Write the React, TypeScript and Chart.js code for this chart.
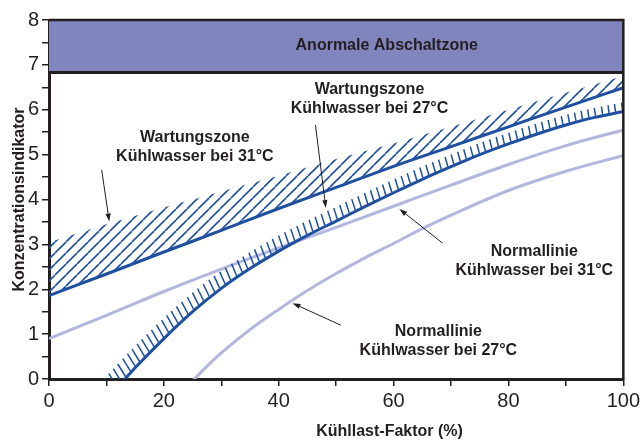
import React, { useEffect, useRef } from "react";
import { Chart, registerables } from "chart.js";

Chart.register(...registerables);

// ---------- data ----------
const loadLevels = [0, 10, 20, 30, 40, 50, 60, 70, 80, 90, 100];
const zone31Line = [1.86, 2.34, 2.83, 3.31, 3.8, 4.27, 4.74, 5.18, 5.62, 6.06, 6.49];
const zone31HatchTop = [3.05, 3.45, 3.82, 4.18, 4.53, 4.9, 5.25, 5.62, 6.0, 6.38, 6.75];
const normal31Line = [0.9, 1.42, 1.95, 2.45, 2.92, 3.38, 3.85, 4.32, 4.78, 5.2, 5.55];

const zone27Load = [11, 13.2, 15, 20, 25, 30, 35, 40, 45, 50, 55, 60, 65, 70, 75, 80, 85, 90, 95, 100];
const zone27Line = [-0.3, 0, 0.25, 0.9, 1.5, 2.02, 2.46, 2.85, 3.2, 3.52, 3.84, 4.15, 4.45, 4.73, 5.0, 5.24, 5.46, 5.66, 5.83, 5.96];

const normal27Load = [24, 25.3, 27, 30, 35, 40, 45, 50, 55, 60, 65, 70, 80, 90, 100];
const normal27Line = [-0.17, 0, 0.22, 0.58, 1.1, 1.55, 1.97, 2.35, 2.7, 3.02, 3.35, 3.65, 4.2, 4.63, 4.98];

const shutdownLoad = [0, 100];
const shutdownLevel = [6.83, 6.83];

const xTickLabels = [0, 20, 40, 60, 80, 100];
const yTickLabels = [0, 1, 2, 3, 4, 5, 6, 7, 8];

const yAxisTitle = "Konzentrationsindikator";
const xAxisTitle = "Kühllast-Faktor (%)";

// annotation texts (anchor in data coordinates: centre x, first line y)
const zoneLabels = [
  { lines: ["Anormale Abschaltzone"], x: 58.8, y: 7.42 },
  { lines: ["Wartungszone", "Kühlwasser bei 31°C"], x: 25.4, y: 5.37 },
  { lines: ["Wartungszone", "Kühlwasser bei 27°C"], x: 55.8, y: 6.44 },
  { lines: ["Normallinie", "Kühlwasser bei 31°C"], x: 84.5, y: 2.83 },
  { lines: ["Normallinie", "Kühlwasser bei 27°C"], x: 67.8, y: 1.05 },
];

// pointer arrows in data coordinates
const pointers = [
  { from: [9.17, 4.66], to: [10.49, 3.51] },
  { from: [46.4, 5.66], to: [48.2, 3.81] },
  { from: [68.5, 3.03], to: [61.0, 3.79] },
  { from: [50.8, 1.2], to: [42.4, 1.69] },
];
const xTitleCenter = 59.3;

// ---------- styles ----------
const TEXT = "#231f20";
const DARK_BLUE = "#1f4f9f";
const LIGHT_LINE = "#b3b6de";
const BAND = "#8085be";
const FONT = "'Liberation Sans', Arial, Helvetica, sans-serif";
const LABEL_SIZE = 16;
const LINE_GAP = 18.5;
const ZONE27_INDEX = 3;

const zip = (xs: number[], ys: number[]) => xs.map((x, i) => ({ x, y: ys[i] }));

function makeHatch(color: string) {
  const c = document.createElement("canvas");
  const w = 11, h = 11;
  c.width = w;
  c.height = h;
  const g = c.getContext("2d")!;
  g.strokeStyle = color;
  g.lineWidth = 1.6;
  for (const dx of [-w, 0, w]) {
    g.beginPath();
    g.moveTo(dx, h);
    g.lineTo(dx + w, 0);
    g.stroke();
  }
  return g.createPattern(c, "repeat")!;
}

const tickHatchPlugin = {
  id: "tickHatch",
  afterDatasetsDraw(chart: any) {
    const meta = chart.getDatasetMeta(ZONE27_INDEX);
    const line = meta.dataset;
    const pts = meta.data;
    if (!pts || pts.length < 2) return;
    const { ctx, chartArea: a, scales } = chart;
    const sx = scales.x;
    const linearAt = (px: number) => {
      for (let i = 1; i < pts.length; i++) {
        if (px <= pts[i].x) {
          const t = (px - pts[i - 1].x) / (pts[i].x - pts[i - 1].x);
          return pts[i - 1].y + t * (pts[i].y - pts[i - 1].y);
        }
      }
      return pts[pts.length - 1].y;
    };
    const samples: { x: number; y: number }[] = [];
    const x0 = pts[0].x, x1 = pts[pts.length - 1].x;
    for (let px = x0; px <= x1; px += 0.5) {
      let p: any = typeof line.interpolate === "function" ? line.interpolate({ x: px }, "x") : null;
      if (Array.isArray(p)) p = p[0];
      const y = p && isFinite(p.y) ? p.y : linearAt(px);
      samples.push({ x: px, y });
    }
    ctx.save();
    ctx.beginPath();
    ctx.rect(a.left, a.top, a.right - a.left, a.bottom - a.top);
    ctx.clip();
    ctx.strokeStyle = DARK_BLUE;
    ctx.lineWidth = 1.5;
    const spacing = 6.8;
    let dist = 0, next = 0;
    for (let i = 1; i < samples.length - 1; i++) {
      dist += Math.hypot(samples[i].x - samples[i - 1].x, samples[i].y - samples[i - 1].y);
      if (dist < next) continue;
      next += spacing;
      const tx = samples[i + 1].x - samples[i - 1].x;
      const ty = samples[i + 1].y - samples[i - 1].y;
      const len = Math.hypot(tx, ty) || 1;
      let nx = ty / len, ny = -tx / len - 0.5;
      const nl = Math.hypot(nx, ny) || 1;
      nx /= nl;
      ny /= nl;
      const v = sx.getValueForPixel(samples[i].x);
      const t = Math.min(1, Math.max(0, (v - 13) / 87));
      const L = 16 - 7 * t;
      ctx.beginPath();
      ctx.moveTo(samples[i].x + nx * 1.2, samples[i].y + ny * 1.2);
      ctx.lineTo(samples[i].x + nx * L, samples[i].y + ny * L);
      ctx.stroke();
    }
    ctx.restore();
  },
};

const annotationPlugin = {
  id: "annotations",
  afterDraw(chart: any) {
    const { ctx, chartArea: a, scales } = chart;
    const sx = scales.x, sy = scales.y;
    ctx.save();
    // frame top/right
    ctx.strokeStyle = TEXT;
    ctx.lineWidth = 2.5;
    ctx.beginPath();
    ctx.moveTo(a.left, a.top);
    ctx.lineTo(a.right, a.top);
    ctx.lineTo(a.right, a.bottom);
    ctx.stroke();

    // labels
    ctx.fillStyle = TEXT;
    ctx.font = `bold ${LABEL_SIZE}px ${FONT}`;
    ctx.textAlign = "center";
    ctx.textBaseline = "middle";
    for (const lab of zoneLabels) {
      const cx = sx.getPixelForValue(lab.x);
      const cy = sy.getPixelForValue(lab.y);
      lab.lines.forEach((t, i) => ctx.fillText(t, cx, cy + i * LINE_GAP));
    }
    // x axis title
    ctx.fillText(xAxisTitle, sx.getPixelForValue(xTitleCenter), sx.bottom - 9);

    // arrows
    ctx.strokeStyle = TEXT;
    ctx.lineWidth = 1;
    for (const p of pointers) {
      const fx = sx.getPixelForValue(p.from[0]), fy = sy.getPixelForValue(p.from[1]);
      const tx = sx.getPixelForValue(p.to[0]), ty = sy.getPixelForValue(p.to[1]);
      const ang = Math.atan2(ty - fy, tx - fx);
      const head = 8, half = 2.6;
      const bx = tx - head * Math.cos(ang), by = ty - head * Math.sin(ang);
      ctx.beginPath();
      ctx.moveTo(fx, fy);
      ctx.lineTo(bx, by);
      ctx.stroke();
      ctx.beginPath();
      ctx.moveTo(tx, ty);
      ctx.lineTo(bx + half * Math.sin(ang), by - half * Math.cos(ang));
      ctx.lineTo(bx - half * Math.sin(ang), by + half * Math.cos(ang));
      ctx.closePath();
      ctx.fill();
    }
    ctx.restore();
  },
};

export default function App() {
  const ref = useRef<HTMLCanvasElement>(null);
  useEffect(() => {
    document.body.style.margin = "0";
    const canvas = ref.current!;
    const hatch = makeHatch(DARK_BLUE);
    const chart = new Chart(canvas, {
      type: "line",
      data: {
        datasets: [
          {
            label: "Anormale Abschaltzone",
            data: zip(shutdownLoad, shutdownLevel),
            borderColor: TEXT,
            borderWidth: 3,
            backgroundColor: BAND,
            fill: "end",
            pointRadius: 0,
            order: 5,
          },
          {
            label: "Wartungszone 31°C (Schraffur)",
            data: zip(loadLevels, zone31HatchTop),
            borderWidth: 0,
            borderColor: "rgba(0,0,0,0)",
            backgroundColor: hatch,
            fill: 2,
            pointRadius: 0,
            order: 3,
          },
          {
            label: "Wartungszone Kühlwasser bei 31°C",
            data: zip(loadLevels, zone31Line),
            borderColor: DARK_BLUE,
            borderWidth: 3,
            fill: false,
            pointRadius: 0,
            cubicInterpolationMode: "monotone",
            order: 1,
          },
          {
            label: "Wartungszone Kühlwasser bei 27°C",
            data: zip(zone27Load, zone27Line),
            borderColor: DARK_BLUE,
            borderWidth: 3,
            fill: false,
            pointRadius: 0,
            cubicInterpolationMode: "monotone",
            clip: 0,
            order: 1,
          },
          {
            label: "Normallinie Kühlwasser bei 31°C",
            data: zip(loadLevels, normal31Line),
            borderColor: LIGHT_LINE,
            borderWidth: 3,
            fill: false,
            pointRadius: 0,
            cubicInterpolationMode: "monotone",
            order: 4,
          },
          {
            label: "Normallinie Kühlwasser bei 27°C",
            data: zip(normal27Load, normal27Line),
            borderColor: LIGHT_LINE,
            borderWidth: 3,
            fill: false,
            pointRadius: 0,
            cubicInterpolationMode: "monotone",
            clip: 0,
            order: 4,
          },
        ] as any,
      },
      options: {
        animation: false,
        responsive: false,
        devicePixelRatio: 1,
        layout: { padding: { left: 0, top: 20, right: 19, bottom: 0 } },
        plugins: { legend: { display: false }, tooltip: { enabled: false } },
        scales: {
          x: {
            type: "linear",
            min: 0,
            max: 100,
            z: 1,
            afterFit: (s: any) => { s.height = 62; },
            border: { display: true, color: TEXT, width: 3 },
            grid: { display: true, drawOnChartArea: false, drawTicks: true, tickLength: 7, color: TEXT, lineWidth: 1.5 },
            ticks: {
              stepSize: 10,
              autoSkip: false,
              maxRotation: 0,
              padding: 3,
              color: TEXT,
              font: { family: FONT, size: 20 },
              callback: (v: any) => (xTickLabels.includes(Number(v)) ? String(v) : ""),
            },
          },
          y: {
            type: "linear",
            min: 0,
            max: 8,
            z: 1,
            afterFit: (s: any) => { s.width = 49; },
            border: { display: true, color: TEXT, width: 3 },
            grid: { display: true, drawOnChartArea: false, drawTicks: true, tickLength: 7, color: TEXT, lineWidth: 1.5 },
            title: {
              display: true,
              text: yAxisTitle,
              color: TEXT,
              font: { family: FONT, size: LABEL_SIZE, weight: "bold" },
              padding: { top: 10, bottom: 0 },
            },
            ticks: {
              stepSize: 0.5,
              autoSkip: false,
              padding: 3,
              color: TEXT,
              font: { family: FONT, size: 20 },
              callback: (v: any) => (yTickLabels.includes(Number(v)) ? String(v) : ""),
            },
          },
        },
      } as any,
      plugins: [tickHatchPlugin, annotationPlugin],
    });
    return () => chart.destroy();
  }, []);
  return (
    <div style={{ width: 643, height: 441 }}>
      <canvas ref={ref} width={643} height={441} style={{ display: "block" }} />
    </div>
  );
}
